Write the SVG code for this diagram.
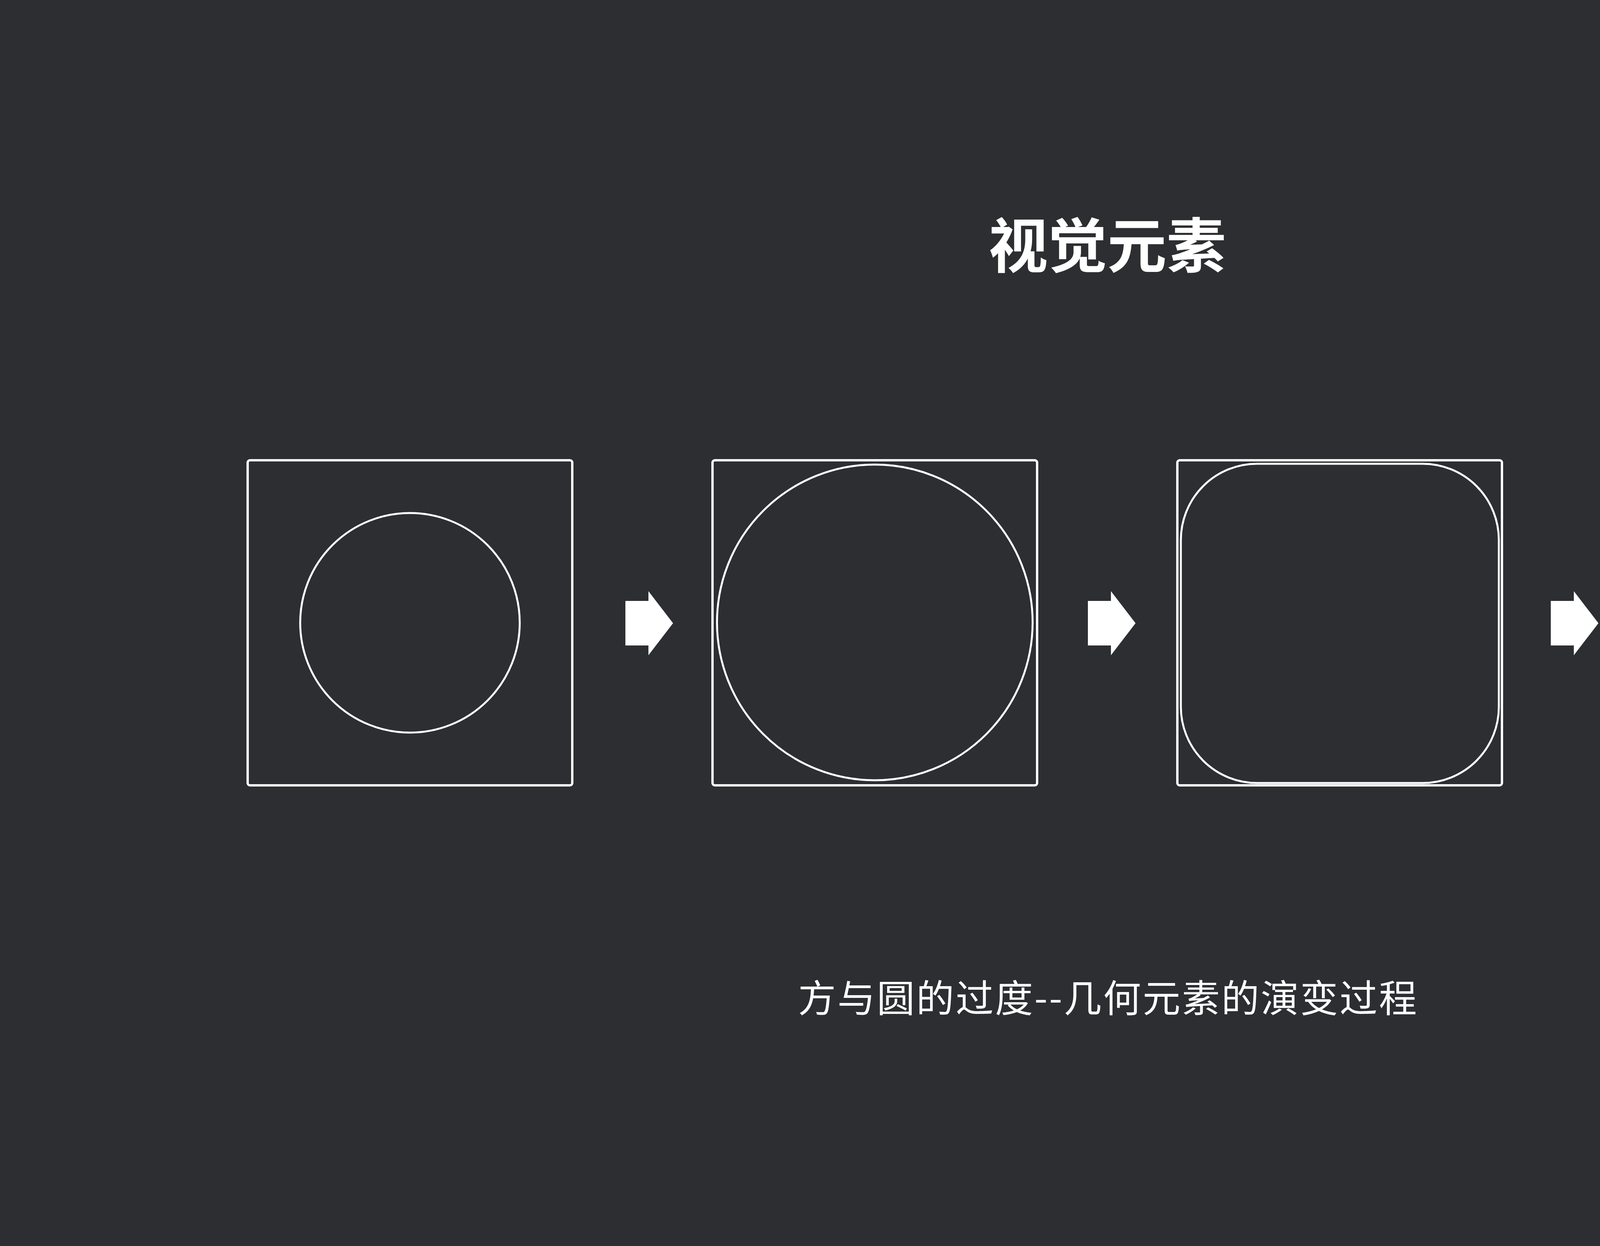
<svg xmlns="http://www.w3.org/2000/svg" width="5669" height="3189" viewBox="0 0 5669 3189">
<style>
.bg{fill:#2d2e32}
.frame{fill:none;stroke:#ffffff;stroke-width:6}
.shape{fill:none;stroke:#ffffff;stroke-width:5}
.arrow{fill:#ffffff;stroke:none}
.title{font-family:"Noto Sans CJK SC","Noto Sans",sans-serif;font-weight:700;font-size:152px;fill:#ffffff}
.sub{font-family:"Noto Sans CJK SC","Noto Sans",sans-serif;font-weight:400;font-size:97px;fill:#ffffff}
</style>
<defs>
<path id="blockArrow" d="M0 25 H59 V0 L122 82 L59 164 V139 H0 Z"/>
</defs>
<rect class="bg" x="0" y="0" width="5669" height="3189"/>
<g id="title">
<text class="title" x="2834.5" y="685" text-anchor="middle">视觉元素</text>
</g>
<g id="node-1">
<rect class="frame" x="634" y="1178" width="831" height="832" rx="6"/>
<circle class="shape" cx="1049.5" cy="1594" r="281"/>
</g>
<g id="node-2">
<rect class="frame" x="1824" y="1178" width="831" height="832" rx="6"/>
<circle class="shape" cx="2239.5" cy="1593" r="404"/>
</g>
<g id="node-3">
<rect class="frame" x="3014" y="1178" width="831" height="832" rx="6"/>
<rect class="shape" x="3023" y="1187" width="814" height="817" rx="195" ry="195"/>
</g>
<g id="node-4">
<rect class="frame" x="4204" y="1178" width="831" height="832" rx="6"/>
<path class="shape" d="M4281 1187 H4959 C5015 1187 5027 1199 5027 1255 V1936 C5027 1992 5015 2004 4959 2004 H4281 C4225 2004 4213 1992 4213 1936 V1255 C4213 1199 4225 1187 4281 1187 Z"/>
</g>
<g id="connectors">
<use class="arrow" href="#blockArrow" transform="translate(1601,1513)"/>
<use class="arrow" href="#blockArrow" transform="translate(2785,1513)"/>
<use class="arrow" href="#blockArrow" transform="translate(3970,1513)"/>
</g>
<g id="caption">
<text class="sub" x="2043" y="2590" textLength="1584" lengthAdjust="spacing">方与圆的过度--几何元素的演变过程</text>
</g>
</svg>
